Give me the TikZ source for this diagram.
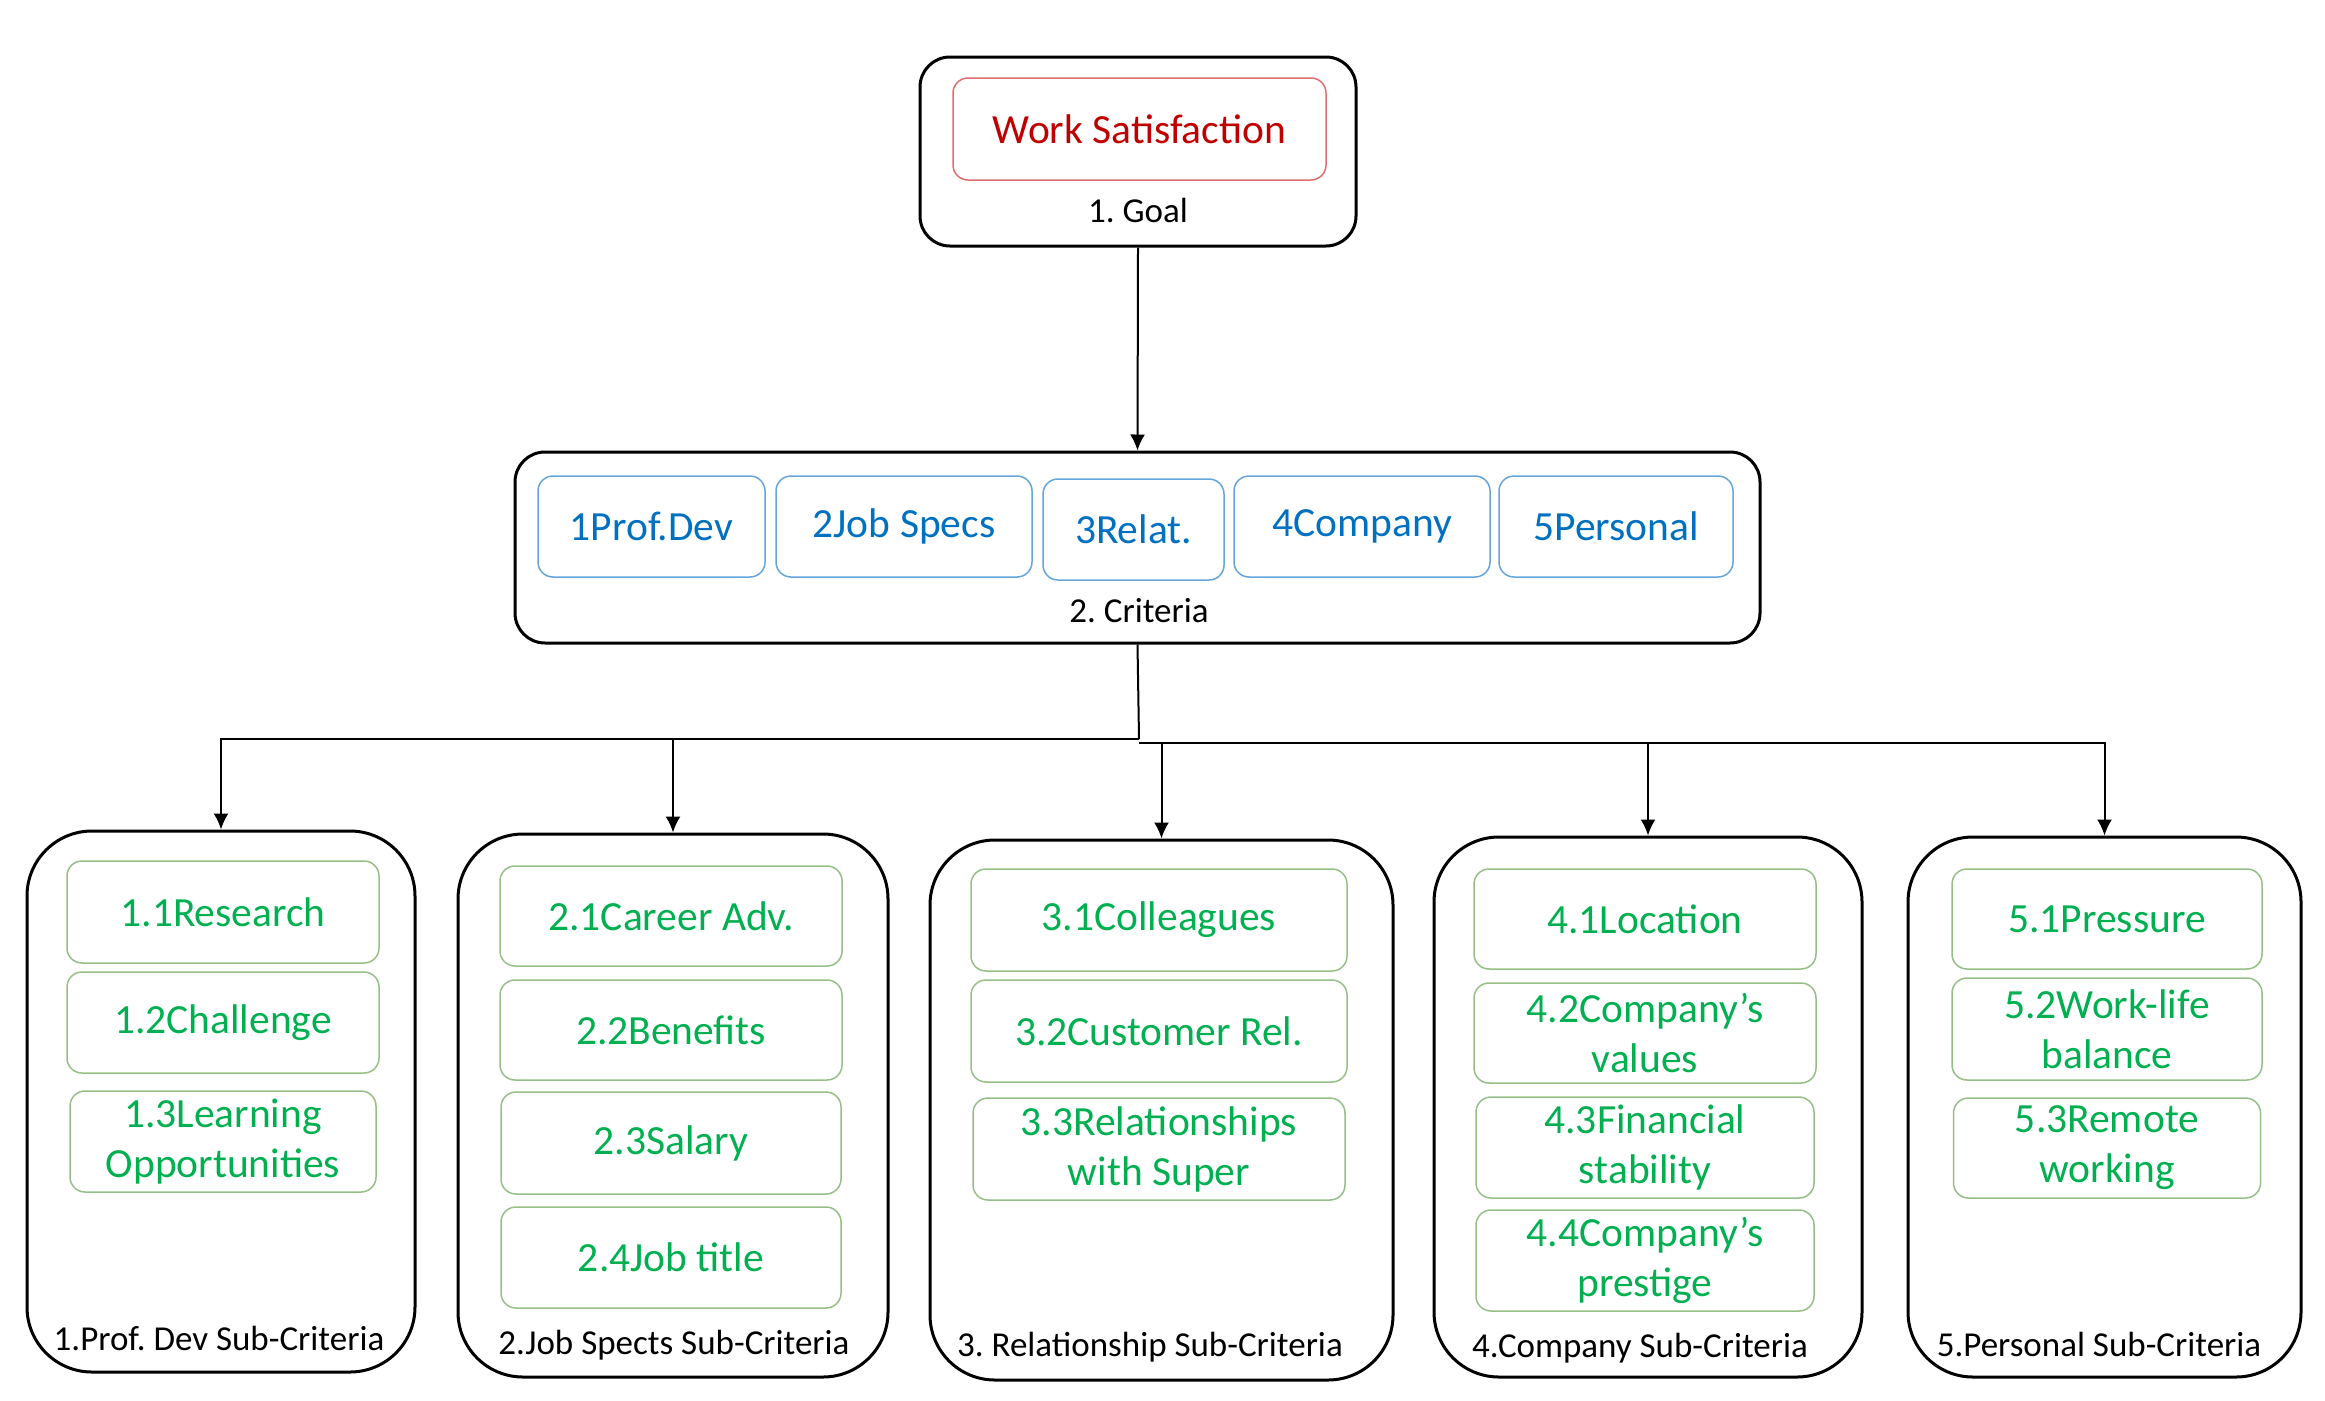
\documentclass[tikz,border=0pt]{standalone}
\usepackage{fontspec}
\setmainfont{Carlito}
\usetikzlibrary{arrows.meta}
\definecolor{redtxt}{RGB}{192,0,0}
\definecolor{redbrd}{RGB}{224,110,110}
\definecolor{bluetxt}{RGB}{0,112,192}
\definecolor{bluebrd}{RGB}{100,165,220}
\definecolor{greentxt}{RGB}{0,176,80}
\definecolor{greenbrd}{RGB}{150,190,135}
\frenchspacing
\tikzset{
  sz/.style 2 args={minimum width=#1pt,minimum height=#2pt},
  bigbox/.style={draw=black,line width=3pt,rounded corners=30pt,inner sep=0pt},
  subbox/.style={draw=black,line width=3pt,rounded corners=65pt,inner sep=0pt},
  maintxt/.style={font=\fontsize{41.5}{50}\selectfont,align=center,inner sep=0pt},
  redbox/.style={maintxt,draw=redbrd,text=redtxt,line width=1.5pt,rounded corners=15pt},
  bluebox/.style={maintxt,draw=bluebrd,text=bluetxt,line width=1.5pt,rounded corners=15pt},
  greenbox/.style={maintxt,draw=greenbrd,text=greentxt,line width=1.5pt,rounded corners=15pt},
  lbl/.style={font=\fontsize{35}{42}\selectfont,text=black,inner sep=0pt},
  conn/.style={line width=2pt,draw=black},
  arr/.style={conn,-{Latex[length=16pt,width=15pt]}}
}
\begin{document}
\begin{tikzpicture}[x=1pt,y=-1pt]
\useasboundingbox (0,0) rectangle (2325,1400);
% Goal
\node[bigbox,sz={436}{189}] (goal) at (1138,151.5) {};
\node[redbox,sz={373}{102}] (ws) at (1139.5,129) {Work Satisfaction};
\node[lbl] (goallbl) at (1138,210) {1. Goal};
% Criteria
\node[bigbox,sz={1245}{191}] (crit) at (1137.5,547.5) {};
\node[bluebox,sz={227}{101}] (c1) at (651.5,526.5) {1Prof.Dev};
\node[bluebox,sz={256}{101}] (c2) at (904,526.5) {2Job Specs};
\node[bluebox,sz={181}{101}] (c3) at (1133.5,529.5) {3Relat.};
\node[bluebox,sz={256}{101}] (c4) at (1362,526.5) {4Company};
\node[bluebox,sz={234}{101}] (c5) at (1616,526.5) {5Personal};
\node[lbl] (critlbl) at (1139,611) {2. Criteria};
% Sub-criteria boxes
\node[subbox,sz={388}{541}] (s1) at (221,1101.5) {};
\node[subbox,sz={430}{543}] (s2) at (673,1105.5) {};
\node[subbox,sz={463}{540}] (s3) at (1161.5,1110) {};
\node[subbox,sz={428}{540}] (s4) at (1648,1107) {};
\node[subbox,sz={393}{540}] (s5) at (2104.5,1107) {};
% Box 1
\node[greenbox,sz={312}{102}] (g11) at (223,912) {1.1Research};
\node[greenbox,sz={312}{101}] (g12) at (223,1022.5) {1.2Challenge};
\node[greenbox,sz={306}{101}] (g13) at (223,1141.5) {1.3Learning\\Opportunities};
\node[lbl] (l1) at (219,1338) {1.Prof. Dev Sub-Criteria};
% Box 2
\node[greenbox,sz={342}{100}] (g21) at (671,916) {2.1Career Adv.};
\node[greenbox,sz={342}{100}] (g22) at (671,1030) {2.2Benefits};
\node[greenbox,sz={340}{102}] (g23) at (671,1143) {2.3Salary};
\node[greenbox,sz={340}{101}] (g24) at (671,1257.5) {2.4Job title};
\node[lbl] (l2) at (674,1345) {2.Job Spects Sub-Criteria};
% Box 3
\node[greenbox,sz={376}{102}] (g31) at (1159,920) {3.1Colleagues};
\node[greenbox,sz={376}{102}] (g32) at (1159,1031) {3.2Customer Rel.};
\node[greenbox,sz={372}{102}] (g33) at (1159,1149) {3.3Relationships\\with Super};
\node[lbl] (l3) at (1150,1347) {3. Relationship Sub-Criteria};
% Box 4
\node[greenbox,sz={342}{100}] (g41) at (1645,919) {4.1Location};
\node[greenbox,sz={342}{100}] (g42) at (1645,1033) {4.2Company’s\\values};
\node[greenbox,sz={338}{101}] (g43) at (1645,1147.5) {4.3Financial\\stability};
\node[greenbox,sz={338}{101}] (g44) at (1645,1260.5) {4.4Company’s\\prestige};
\node[lbl] (l4) at (1640,1348) {4.Company Sub-Criteria};
% Box 5
\node[greenbox,sz={310}{100}] (g51) at (2107,919) {5.1Pressure};
\node[greenbox,sz={310}{102}] (g52) at (2107,1029) {5.2Work-life\\balance};
\node[greenbox,sz={307}{100}] (g53) at (2107,1148) {5.3Remote\\working};
\node[lbl] (l5) at (2099,1344) {5.Personal Sub-Criteria};
% Connectors
\draw[arr] (goal.south) -- (crit.north);
\coordinate (jl) at (1139,739);
\coordinate (jr) at (1139,743);
\draw[conn] (crit.south) -- (jl);
\draw[arr] (jl) -| (s1.north);
\draw[arr] (jl) -| (s2.north);
\draw[arr] (jr) -| (s3.north);
\draw[arr] (jr) -| (s4.north);
\draw[arr] (jr) -| (s5.north);
\end{tikzpicture}
\end{document}
